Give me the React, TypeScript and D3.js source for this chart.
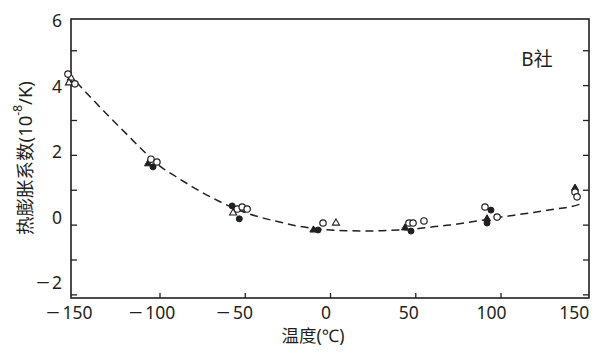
import * as d3 from "d3";

// dashed fit curve (temperature °C, coefficient 10^-8/K)
const curveT = [-149, -140, -130, -120, -110, -100, -90, -80, -70, -60, -50, -40, -30, -20, -10, 0, 10, 20, 30, 40, 50, 60, 70, 80, 90, 100, 110, 120, 130, 140, 148.5];
const curveV = [4.1, 3.63, 3.12, 2.63, 2.14, 1.69, 1.37, 1.07, 0.8, 0.56, 0.36, 0.21, 0.09, -0.02, -0.09, -0.14, -0.16, -0.17, -0.16, -0.14, -0.11, -0.05, 0.0, 0.07, 0.15, 0.23, 0.3, 0.37, 0.45, 0.52, 0.63];

// measured points
const openCircleT = [-154, -149.9, -105.3, -101.8, -54.7, -51.8, -48.9, -4.4, 46, 48.4, 54.8, 90.6, 97.7, 143.4, 144.6];
const openCircleV = [4.33, 4.05, 1.89, 1.81, 0.46, 0.52, 0.46, 0.06, 0.06, 0.06, 0.12, 0.52, 0.23, 0.95, 0.81];
const filledCircleT = [-104.1, -57.7, -53.5, -7.3, 47.2, 94.1, 91.8];
const filledCircleV = [1.67, 0.55, 0.18, -0.14, -0.17, 0.43, 0.06];
const openTriT = [-152.2, -153.4, -57.1, 3.2];
const openTriV = [4.22, 4.08, 0.35, 0.06];
const filledTriT = [-107, -10, 43.7, 91.8, 143.4];
const filledTriV = [1.76, -0.14, -0.08, 0.18, 1.06];

const xTicks = [-150, -100, -50, 0, 50, 100, 150];
const yTicks = [-2, 0, 2, 4, 6];
const yMinor = [-2, -1, 0, 1, 2, 3, 4, 5];

const W = 600;
const H = 360;
const L = 71, R = 589, T = 19, B = 298;
const ink = "#231f20";
const font = "'Noto Sans', 'Noto Sans CJK SC', sans-serif";

const fmt = (n: number) => String(Math.abs(n));

export default function App() {
  const x = d3.scaleLinear().domain([-152.2, 151.6]).range([L, R]);
  const y = d3.scaleLinear().domain([-2.09, 5.91]).range([B, T]);
  // the scanned labels sit slightly off the ticks
  const xLab = d3.scaleLinear().domain([-150, 150]).range([77.6, 574.2]);
  const yLab = d3.scaleLinear().domain([-2, 6]).range([282.3, 20]);

  const line = d3
    .line<number>()
    .x((d, i) => x(curveT[i]))
    .y((d) => y(d))
    .curve(d3.curveMonotoneX);

  const tri = d3.symbol().type(d3.symbolTriangle).size(22)();

  return (
    <svg width={W} height={H} style={{ position: "absolute", left: 0, top: 0, background: "#fff" }} fontFamily={font}>
      {/* frame */}
      <rect x={L} y={T} width={R - L} height={B - T} fill="none" stroke={ink} strokeWidth={1.6} />

      {/* ticks */}
      {yMinor.map((v) => (
        <g key={"yt" + v}>
          <line x1={L} x2={L + 6} y1={y(v)} y2={y(v)} stroke={ink} strokeWidth={1.3} />
          <line x1={R} x2={R - 6} y1={y(v)} y2={y(v)} stroke={ink} strokeWidth={1.3} />
        </g>
      ))}
      {xTicks.slice(1, -1).map((t) => (
        <line key={"xt" + t} x1={x(t)} x2={x(t)} y1={B} y2={B - 5} stroke={ink} strokeWidth={1.3} />
      ))}

      {/* tick labels */}
      {yTicks.map((v) => (
        <g key={"yl" + v} fontSize={17.5} fill={ink}>
          <text x={62} y={yLab(v)} textAnchor="end" dominantBaseline="central">{fmt(v)}</text>
          {v < 0 && (
            <text x={62 - 12} y={yLab(v)} textAnchor="end" dominantBaseline="central" textLength={14} lengthAdjust="spacingAndGlyphs">−</text>
          )}
        </g>
      ))}
      {xTicks.map((t) => {
        const w = fmt(t).length * 9.8;
        return (
          <g key={"xl" + t} fontSize={17.5} fill={ink}>
            <text x={xLab(t)} y={312} textAnchor="middle" dominantBaseline="central">{fmt(t)}</text>
            {t < 0 && (
              <text x={xLab(t) - w / 2 - 3} y={312} textAnchor="end" dominantBaseline="central" textLength={14} lengthAdjust="spacingAndGlyphs">−</text>
            )}
          </g>
        );
      })}

      {/* fit curve */}
      <path d={line(curveV) || ""} fill="none" stroke={ink} strokeWidth={1.5} strokeDasharray="8,5" />

      {/* markers */}
      {openTriT.map((t, i) => (
        <path key={"ot" + i} d={tri || ""} transform={`translate(${x(t)},${y(openTriV[i])})`} fill="#fff" stroke={ink} strokeWidth={1.1} />
      ))}
      {filledTriT.map((t, i) => (
        <path key={"ft" + i} d={tri || ""} transform={`translate(${x(t)},${y(filledTriV[i])})`} fill={ink} stroke={ink} strokeWidth={1} />
      ))}
      {filledCircleT.map((t, i) => (
        <circle key={"fc" + i} cx={x(t)} cy={y(filledCircleV[i])} r={3} fill={ink} stroke={ink} strokeWidth={1} />
      ))}
      {openCircleT.map((t, i) => (
        <circle key={"oc" + i} cx={x(t)} cy={y(openCircleV[i])} r={3.2} fill="#fff" stroke={ink} strokeWidth={1.2} />
      ))}

      {/* labels */}
      <text x={537} y={59} fontSize={19} fill={ink} textAnchor="middle" dominantBaseline="central">B社</text>
      <text x={313} y={335} fontSize={17.5} fill={ink} textAnchor="middle" dominantBaseline="central">温度(℃)</text>
      <text transform="translate(24,158) rotate(-90)" fontSize={18.5} fill={ink} textAnchor="middle" dominantBaseline="central">
        热膨胀系数(10<tspan fontSize={12} dy={-7}>-8</tspan><tspan dy={7}>/K)</tspan>
      </text>
    </svg>
  );
}
